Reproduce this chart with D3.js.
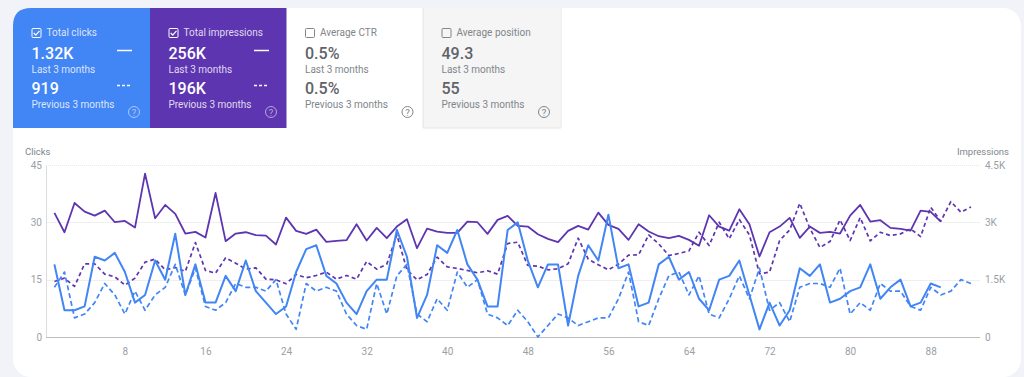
<!DOCTYPE html>
<html>
<head>
<meta charset="utf-8">
<script src="https://cdn.jsdelivr.net/npm/d3@7"></script>
<style>
  html, body { margin: 0; padding: 0; background: #f1f3f8; overflow: hidden; }
  text { font-family: Roboto, sans-serif; }
</style>
</head>
<body>
<div id="chart"></div>
<script>
const clicksLast = [19, 7, 7, 8, 21, 20, 22, 17, 9, 11, 20, 15, 27, 11, 19, 9, 9, 16, 12, 20, 12, 9, 6, 8, 17, 23, 24, 16, 14, 9, 6, 12, 15, 15, 28, 21, 5, 11, 24, 22, 28, 19, 15, 8, 8, 28, 30, 20, 13, 19, 19, 3, 16, 24, 20, 32, 18, 19, 8, 9, 19, 21, 15, 17, 10, 7, 15, 16, 20, 11, 2, 9, 3, 7, 18, 16, 19, 9, 10, 12, 13, 19, 10, 13, 15, 8, 9, 14, 13];
const clicksPrevious = [13, 17, 5, 6, 9, 14, 11, 6, 12, 7, 11, 13, 19, 11, 18, 8, 7, 9, 14, 13, 13, 12, 15, 6, 2, 14, 12, 13, 12, 6, 3, 2, 14, 6, 16, 19, 6, 4, 10, 7, 17, 13, 15, 6, 5, 3, 7, 4, 0, 3, 6, 5, 3, 4, 5, 5, 10, 17, 4, 3, 10, 16, 17, 11, 16, 6, 5, 10, 16, 10, 18, 7, 9, 4, 13, 14, 14, 13, 18, 6, 9, 7, 14, 12, 12, 8, 7, 13, 11, 12, 15, 14];
const impressionsLast = [3246, 2741, 3507, 3281, 3177, 3307, 3003, 3037, 2863, 4273, 3107, 3455, 3220, 2707, 2750, 2602, 3768, 2507, 2707, 2741, 2663, 2654, 2420, 3124, 2776, 2698, 2811, 2489, 2515, 2533, 2950, 2524, 2855, 2585, 2889, 3081, 2324, 2837, 2759, 2724, 2724, 3020, 3003, 2698, 3064, 3168, 2907, 2889, 2689, 2567, 2480, 2776, 2907, 2811, 3255, 2933, 2829, 2541, 2950, 2759, 2637, 2585, 2646, 2541, 2385, 3185, 2889, 2785, 3342, 2950, 2106, 2741, 2889, 3116, 2594, 2889, 2724, 2750, 2707, 3177, 3455, 3020, 3055, 2855, 2829, 2785, 3307, 3272, 3020];
const impressionsPrevious = [1453, 1540, 1323, 1915, 1915, 1645, 1575, 1358, 1540, 1958, 2037, 1758, 1819, 1715, 2472, 1741, 1671, 2071, 1932, 1775, 1810, 1514, 1497, 1393, 1636, 1549, 1610, 1697, 1514, 1610, 1514, 1976, 1775, 1906, 2672, 1758, 1497, 1636, 2089, 1836, 1793, 1741, 1680, 1732, 1645, 2446, 2480, 1871, 1854, 1758, 1784, 1915, 2585, 2037, 1889, 1758, 1906, 2141, 2150, 2672, 2437, 2132, 2185, 2254, 2741, 2394, 3003, 2567, 3072, 2672, 1654, 1697, 2524, 2802, 3499, 2846, 2341, 2498, 3064, 2524, 3124, 2515, 2741, 2654, 2698, 2829, 2628, 3394, 3029, 3542, 3264, 3403];

const xTicks = [8, 16, 24, 32, 40, 48, 56, 64, 72, 80, 88];
const clickTicks = [0, 15, 30, 45];
const impressionTicks = [0, 1500, 3000, 4500];

const tiles = [
  { title: 'Total clicks', last: '1.32K', previous: '919', fill: '#4285f4', on: true },
  { title: 'Total impressions', last: '256K', previous: '196K', fill: '#5e35b1', on: true },
  { title: 'Average CTR', last: '0.5%', previous: '0.5%', fill: '#ffffff', on: false },
  { title: 'Average position', last: '49.3', previous: '55', fill: '#f5f5f5', on: false },
];

const size = { width: 1024, height: 377 };
const margin = { top: 165, right: 44, bottom: 40, left: 46 };

const svg = d3
  .select('#chart')
  .append('svg')
  .attr('width', size.width)
  .attr('height', size.height)
  .style('display', 'block');

// white card behind everything
svg
  .append('rect')
  .attr('x', 13)
  .attr('y', 8)
  .attr('width', 1008)
  .attr('height', 369)
  .attr('rx', 18)
  .attr('fill', '#fff');

const tileWidth = 137;
const tileHeight = 120;

tiles.forEach((t, i) => {
  const x0 = 13 + i * tileWidth - (i > 1 ? i - 1 : 0) * 0.5;
  const pad = i > 1 ? 18.5 : 18.5;
  const g = svg.append('g').attr('transform', `translate(${x0}, 8)`);
  const main = t.on ? '#fff' : '#5f6368';
  const soft = t.on ? 'rgba(255,255,255,0.82)' : '#80868b';

  if (i === 0) {
    g.append('path')
      .attr('d', `M0 ${tileHeight} V18 Q0 0 18 0 H${tileWidth} V${tileHeight} Z`)
      .attr('fill', t.fill);
  } else {
    g.append('rect')
      .attr('width', tileWidth)
      .attr('height', tileHeight)
      .attr('fill', t.fill);
  }
  if (i === 3) {
    g.append('path')
      .attr('d', `M0 0 V${tileHeight} H${tileWidth + 1} V0`)
      .attr('fill', 'none')
      .attr('stroke', '#e4e4e4');
  }

  // checkbox
  const box = g.append('g').attr('transform', `translate(${pad}, 20)`);
  box
    .append('rect')
    .attr('x', 0.5)
    .attr('y', 0.5)
    .attr('width', 9)
    .attr('height', 9)
    .attr('rx', 1)
    .attr('fill', 'none')
    .attr('stroke', t.on ? '#fff' : '#80868b');
  if (t.on) {
    box
      .append('path')
      .attr('d', 'M2.2 5 L4.3 7.2 L8 2.8')
      .attr('fill', 'none')
      .attr('stroke', '#fff')
      .attr('stroke-width', 1.2);
  }

  g.append('text')
    .text(t.title)
    .attr('x', pad + 15)
    .attr('y', 28)
    .attr('font-size', 10)
    .attr('fill', soft);
  g.append('text')
    .text(t.last)
    .attr('x', pad)
    .attr('y', 51)
    .attr('font-size', 16)
    .attr('font-weight', 500)
    .attr('fill', main);
  g.append('text')
    .text('Last 3 months')
    .attr('x', pad)
    .attr('y', 64.5)
    .attr('font-size', 10)
    .attr('fill', soft);
  g.append('text')
    .text(t.previous)
    .attr('x', pad)
    .attr('y', 86)
    .attr('font-size', 16)
    .attr('font-weight', 500)
    .attr('fill', main);
  g.append('text')
    .text('Previous 3 months')
    .attr('x', pad)
    .attr('y', 99.5)
    .attr('font-size', 10)
    .attr('fill', soft);

  if (t.on) {
    g.append('line')
      .attr('x1', 104)
      .attr('x2', 119)
      .attr('y1', 42.5)
      .attr('y2', 42.5)
      .attr('stroke', '#fff')
      .attr('stroke-width', 1.5);
    g.append('line')
      .attr('x1', 104)
      .attr('x2', 119)
      .attr('y1', 77.5)
      .attr('y2', 77.5)
      .attr('stroke', '#fff')
      .attr('stroke-width', 1.5)
      .attr('stroke-dasharray', '3, 2');
  }

  // help icon
  const helpColor = t.on ? 'rgba(255,255,255,0.55)' : '#80868b';
  g.append('circle')
    .attr('cx', 121)
    .attr('cy', 104)
    .attr('r', 5.5)
    .attr('fill', 'none')
    .attr('stroke', helpColor);
  g.append('text')
    .text('?')
    .attr('x', 121)
    .attr('y', 107.5)
    .attr('text-anchor', 'middle')
    .attr('font-size', 9.5)
    .attr('fill', helpColor);
});

const x = d3
  .scaleLinear()
  .domain([1, 92])
  .range([54.4, 971]);
const yClicks = d3
  .scaleLinear()
  .domain([0, 45])
  .range([size.height - margin.bottom, margin.top]);
const yImpressions = d3
  .scaleLinear()
  .domain([0, 4500])
  .range([size.height - margin.bottom, margin.top]);

const right = size.width - margin.right;
const plotBottom = size.height - margin.bottom;

// gridlines
svg
  .selectAll('.grid')
  .data(clickTicks.slice(1))
  .enter()
  .append('line')
  .attr('x1', margin.left)
  .attr('x2', right)
  .attr('y1', (d) => Math.round(yClicks(d)) + 0.5)
  .attr('y2', (d) => Math.round(yClicks(d)) + 0.5)
  .attr('stroke', (d) => (d === 45 ? '#e8e8e8' : '#efefef'))
  .attr('stroke-dasharray', (d) => (d === 45 ? '1, 1' : null));

const styleAxis = (g) => {
  g.selectAll('.tick line').remove();
  g.selectAll('text')
    .attr('fill', '#9aa0a6')
    .style('font-family', 'Roboto, sans-serif')
    .style('font-size', '10px');
};

svg
  .append('g')
  .attr('transform', `translate(${margin.left}, 0)`)
  .call(d3.axisLeft(yClicks).tickValues(clickTicks).tickSize(0).tickPadding(4))
  .call(styleAxis)
  .call((g) => g.select('.domain').attr('stroke', '#dadce0'));

svg
  .append('g')
  .attr('transform', `translate(${right}, 0)`)
  .call(
    d3
      .axisRight(yImpressions)
      .tickValues(impressionTicks)
      .tickSize(0)
      .tickPadding(5)
      .tickFormat((d) => (d === 0 ? '0' : `${d / 1000}K`)),
  )
  .call(styleAxis)
  .call((g) => g.select('.domain').remove());

svg
  .append('g')
  .attr('transform', `translate(0, ${plotBottom})`)
  .call(d3.axisBottom(x).tickValues(xTicks).tickSize(0).tickPadding(11).tickFormat(d3.format('d')))
  .call(styleAxis)
  .call((g) =>
    g
      .select('.domain')
      .attr('d', `M${margin.left},0.5H${right}`)
      .attr('stroke', '#bdbdbd'),
  );

svg
  .append('text')
  .text('Clicks')
  .attr('x', 25)
  .attr('y', 155)
  .attr('font-size', 9.5)
  .attr('fill', '#80868b');
svg
  .append('text')
  .text('Impressions')
  .attr('x', 1009)
  .attr('y', 155)
  .attr('text-anchor', 'end')
  .attr('font-size', 9.5)
  .attr('fill', '#80868b');

const lineClicks = d3
  .line()
  .x((d, i) => x(i + 1))
  .y((d) => yClicks(d));
const lineImpressions = d3
  .line()
  .x((d, i) => x(i + 1))
  .y((d) => yImpressions(d));

const series = [
  { values: impressionsPrevious, line: lineImpressions, color: '#5e35b1', dash: '4, 3', width: 1.7 },
  { values: clicksPrevious, line: lineClicks, color: '#4285f4', dash: '5, 3', width: 1.7 },
  { values: impressionsLast, line: lineImpressions, color: '#5e35b1', dash: null, width: 1.8 },
  { values: clicksLast, line: lineClicks, color: '#4285f4', dash: null, width: 2 },
];

svg
  .selectAll('.series')
  .data(series)
  .enter()
  .append('path')
  .attr('d', (d) => d.line(d.values))
  .attr('fill', 'none')
  .attr('stroke', (d) => d.color)
  .attr('stroke-width', (d) => d.width)
  .attr('stroke-linejoin', 'round')
  .attr('stroke-dasharray', (d) => d.dash);
</script>
</body>
</html>
